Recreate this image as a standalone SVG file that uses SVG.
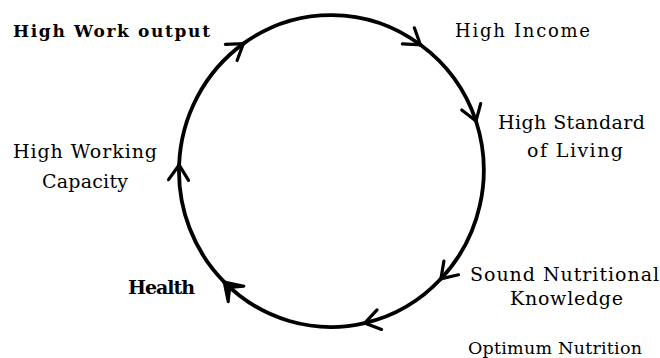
<svg xmlns="http://www.w3.org/2000/svg" width="660" height="358" viewBox="0 0 660 358">
  <style>
    .lbl { font-family: "DejaVu Serif", "Liberation Serif", serif; fill: #000; }
    .b { font-weight: bold; }
    .arc { fill: none; stroke: #000; stroke-width: 3.8; stroke-linecap: round; }
  </style>
  <defs>
    <marker id="chev" markerUnits="userSpaceOnUse" viewBox="-20 -14 24 28" markerWidth="24" markerHeight="28" refX="0" refY="0" orient="auto" overflow="visible">
      <path d="M -15 -10 L 0 0 L -15 10" fill="none" stroke="#000" stroke-width="3.2" stroke-linecap="round" stroke-linejoin="miter"/>
    </marker>
    <marker id="chevBold" markerUnits="userSpaceOnUse" viewBox="-20 -14 24 28" markerWidth="24" markerHeight="28" refX="0" refY="0" orient="auto" overflow="visible">
      <path d="M -17 -11 L 0 0 L -17 11 L -8 0 Z" fill="#000" stroke="#000" stroke-width="3" stroke-linejoin="round"/>
    </marker>
  </defs>
  <rect width="660" height="358" fill="#fff"/>

  <g id="connectors">
    <path class="arc" d="M 243.4 43.6 A 152 156 0 0 1 420.4 44.8" marker-end="url(#chev)"/>
    <path class="arc" d="M 420.4 44.8 A 152 156 0 0 1 476 121" marker-end="url(#chev)"/>
    <path class="arc" d="M 476 121 A 152 156 0 0 1 440.9 278.8" marker-end="url(#chev)"/>
    <path class="arc" d="M 440.9 278.8 A 152 156 0 0 1 364.7 323.1" marker-end="url(#chev)"/>
    <path class="arc" d="M 364.7 323.1 A 152 156 0 0 1 224.1 281.9" marker-end="url(#chevBold)"/>
    <path class="arc" d="M 224.1 281.9 A 152 156 0 0 1 179.1 165" marker-end="url(#chev)"/>
    <path class="arc" d="M 179.1 165 A 152 156 0 0 1 243.4 43.6" marker-end="url(#chev)"/>
  </g>

  <g id="high-work-output">
    <text class="lbl b" x="13" y="37" font-size="17" textLength="197" lengthAdjust="spacing">High Work output</text>
  </g>
  <g id="high-income">
    <text class="lbl" x="455" y="37" font-size="18" textLength="135" lengthAdjust="spacing">High Income</text>
  </g>
  <g id="high-standard-of-living">
    <text class="lbl" x="498" y="129" font-size="19" textLength="147" lengthAdjust="spacing">High Standard</text>
    <text class="lbl" x="527" y="157" font-size="19" textLength="96" lengthAdjust="spacing">of Living</text>
  </g>
  <g id="sound-nutritional-knowledge">
    <text class="lbl" x="470" y="281" font-size="19" textLength="189" lengthAdjust="spacing">Sound Nutritional</text>
    <text class="lbl" x="510" y="305" font-size="19" textLength="113" lengthAdjust="spacing">Knowledge</text>
  </g>
  <g id="optimum-nutrition">
    <text class="lbl" x="468" y="354" font-size="17.5" textLength="174" lengthAdjust="spacing">Optimum Nutrition</text>
  </g>
  <g id="health">
    <text class="lbl b" x="128" y="294" font-size="19" textLength="67" lengthAdjust="spacing">Health</text>
  </g>
  <g id="high-working-capacity">
    <text class="lbl" x="13" y="158" font-size="19" textLength="144" lengthAdjust="spacing">High Working</text>
    <text class="lbl" x="42" y="188" font-size="19" textLength="86" lengthAdjust="spacing">Capacity</text>
  </g>
</svg>
